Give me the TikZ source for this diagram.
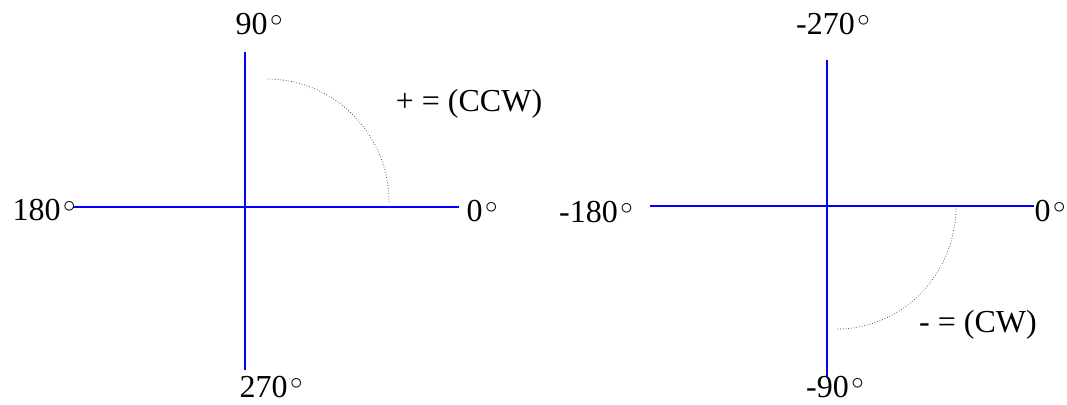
\documentclass[tikz,border=0pt]{standalone}
\usepackage{fontspec}
\setmainfont{Liberation Serif}
\newcommand{\degs}{\kern2.5pt\raisebox{8pt}{\fontsize{25}{25}\selectfont$\circ$}}
\tikzset{
  axis/.style={draw=blue, line width=2pt},
  arcline/.style={draw=black!80, line width=0.7pt, dotted},
  lbl/.style={inner sep=0pt, font=\fontsize{32}{36}\selectfont}
}
\begin{document}
\begin{tikzpicture}[x=1pt,y=-1pt]
\useasboundingbox (0,0) rectangle (1067,404);
% left diagram
\coordinate (lW) at (73,207);
\coordinate (lE) at (459,207);
\coordinate (lN) at (245,52);
\coordinate (lS) at (245,370);
\draw[axis] (lW) -- (lE);
\draw[axis] (lN) -- (lS);
\coordinate (la) at (267,79);
\coordinate (lb) at (389,202);
\draw[arcline] (la) .. controls (334,79) and (389,134) .. (lb);
\node[lbl] (t90) at (259,24) {90\degs};
\node[lbl] (t270) at (271,387.5) {270\degs};
\node[lbl] (t180) at (44,210) {180\degs};
\node[lbl] (t0a) at (482,211) {0\degs};
\node[lbl] (ccw) at (469,104) {+ = (CCW)};
% right diagram
\coordinate (rW) at (650,206);
\coordinate (rE) at (1034,206);
\coordinate (rN) at (827,60);
\coordinate (rS) at (827,377);
\draw[axis] (rW) -- (rE);
\draw[axis] (rN) -- (rS);
\coordinate (ra) at (956,206);
\coordinate (rb) at (837,329);
\draw[arcline] (ra) .. controls (956,274) and (903,329) .. (rb);
\node[lbl] (tm270) at (833,24) {-270\degs};
\node[lbl] (tm90) at (835,387.5) {-90\degs};
\node[lbl] (tm180) at (596,212) {-180\degs};
\node[lbl] (t0b) at (1050,211) {0\degs};
\node[lbl] (cw) at (978,325) {- = (CW)};
\end{tikzpicture}
\end{document}
